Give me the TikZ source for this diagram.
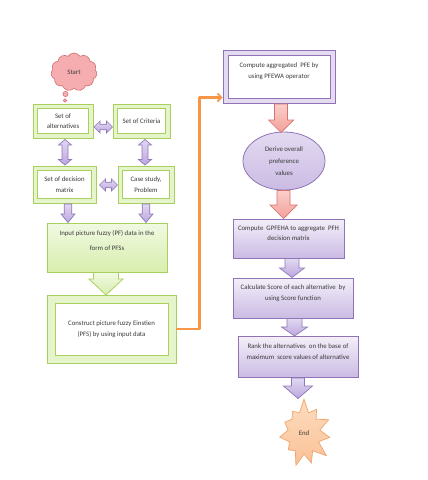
\documentclass[tikz,border=0pt]{standalone}
\usepackage{fontspec}
\setmainfont{Carlito}
\usetikzlibrary{shapes.geometric,shapes.symbols,arrows.meta,calc}
\definecolor{gB}{HTML}{A9CF5F}
\definecolor{gF}{HTML}{E6F4CB}
\definecolor{gT}{HTML}{F1F9E2}
\definecolor{gD}{HTML}{D8EEAE}
\definecolor{pB}{HTML}{8E74B6}
\definecolor{pT}{HTML}{F3EFF9}
\definecolor{pD}{HTML}{CBBBE4}
\definecolor{pF}{HTML}{E4DBF1}
\definecolor{paT}{HTML}{E2D8F2}
\definecolor{paD}{HTML}{BBA7DE}
\definecolor{paB}{HTML}{8F78B8}
\definecolor{rkT}{HTML}{FBCFCB}
\definecolor{rkD}{HTML}{F3A09B}
\definecolor{rkB}{HTML}{D6726D}
\definecolor{orC}{HTML}{F79646}
\definecolor{enT}{HTML}{FDDCBF}
\definecolor{enD}{HTML}{FAC196}
\definecolor{enB}{HTML}{F0A46C}
\definecolor{stF}{HTML}{F6ADB0}
\definecolor{stB}{HTML}{D06B70}
\definecolor{txt}{HTML}{3A3A3A}
\newcommand\blockdown[7]{\draw[#1] ({#2-#6},#3) -- ({#2+#6},#3) -- ({#2+#6},#4) -- ({#2+#7},#4) -- (#2,#5) -- ({#2-#7},#4) -- ({#2-#6},#4) -- cycle;}
\newcommand\blockvdouble[7]{\draw[#1] (#2,#3) -- ({#2+#6},{#3+#7}) -- ({#2+#5},{#3+#7}) -- ({#2+#5},{#4-#7}) -- ({#2+#6},{#4-#7}) -- (#2,#4) -- ({#2-#6},{#4-#7}) -- ({#2-#5},{#4-#7}) -- ({#2-#5},{#3+#7}) -- ({#2-#6},{#3+#7}) -- cycle;}
\newcommand\blockhdouble[7]{\draw[#1] (#3,#2) -- ({#3+#7},{#2+#6}) -- ({#3+#7},{#2+#5}) -- ({#4-#7},{#2+#5}) -- ({#4-#7},{#2+#6}) -- (#4,#2) -- ({#4-#7},{#2-#6}) -- ({#4-#7},{#2-#5}) -- ({#3+#7},{#2-#5}) -- ({#3+#7},{#2-#6}) -- cycle;}
\begin{document}
\begin{tikzpicture}[x=1pt,y=-1pt,
  font=\fontsize{6.8}{10.5}\selectfont,
  every node/.style={inner sep=0pt,align=center,text=txt},
  greenframe/.style={draw=gB,fill=gF,line width=0.9pt,
    path picture={\draw[gB,fill=white,line width=0.7pt]
      ([shift={(#1,-#1)}]path picture bounding box.north west) rectangle
      ([shift={(-#1,#1)}]path picture bounding box.south east);}},
  greenframe/.default=4.5pt,
  purpleframe/.style={draw=pB,fill=pF,line width=0.9pt,
    path picture={\draw[pB,fill=white,line width=0.7pt]
      ([shift={(#1,-#1)}]path picture bounding box.north west) rectangle
      ([shift={(-#1,#1)}]path picture bounding box.south east);}},
  purpleframe/.default=5pt,
  greenbox/.style={draw=gB,top color=gT,bottom color=gD,line width=0.9pt},
  purplebox/.style={draw=pB,top color=pT,bottom color=pD,line width=0.8pt},
  purplearrow/.style={draw=paB,top color=paT,bottom color=paD,line width=0.7pt},
  pinkarrow/.style={draw=rkB,top color=rkT,bottom color=rkD,line width=0.7pt},
  greenarrow/.style={draw=gB,top color=gT,bottom color=gD,line width=0.8pt},
  orangeconn/.style={draw=orC,line width=2.4pt,-{Straight Barb[length=4pt,width=8pt,line width=1.6pt]}}
]
\useasboundingbox (0,0) rectangle (428,480);
% left column
\node[cloud,cloud puffs=11,cloud puff arc=115,aspect=1.2,draw=stB,fill=stF,line width=0.6pt,minimum width=46pt,minimum height=38pt] (start) at (74,72) {Start};
\fill[stF,draw=stB,line width=0.5pt] (65.5,94) circle (2.6);
\fill[stF,draw=stB,line width=0.5pt] (65,100.5) circle (1.7);
\node[greenframe,minimum width=60pt,minimum height=34pt] (alt) at (63,121) {Set of\\alternatives};
\node[greenframe,minimum width=57pt,minimum height=34pt] (crit) at (141.5,121) {Set of Criteria};
\node[greenframe,minimum width=63pt,minimum height=37pt] (dec) at (64.5,184.5) {Set of decision\\matrix};
\node[greenframe,minimum width=56pt,minimum height=37pt] (case) at (146,184.5) {Case study,\\Problem};
\node[greenbox,minimum width=120pt,minimum height=49pt] (input) at (107,247.5) {Input picture fuzzy (PF) data in the\\[4pt]form of PFSs\\[3pt]\mbox{}};
\node[greenframe=8pt,minimum width=129pt,minimum height=68pt] (construct) at (111.5,329) {Construct picture fuzzy Einstien\\(PFS) by using input data};
% connectors left
\blockhdouble{purplearrow}{127}{94}{112.5}{2.8}{6}{6}
\blockhdouble{purplearrow}{185}{99.5}{117.5}{2.8}{6}{6}
\blockvdouble{purplearrow}{65}{139.5}{165}{3}{6.5}{5.5}
\blockvdouble{purplearrow}{145}{139.5}{165}{3}{6.5}{5.5}
\blockdown{purplearrow}{68}{204}{214}{222.5}{3.8}{7}
\blockdown{purplearrow}{146}{204}{214}{222.5}{3.8}{7}
\blockdown{greenarrow}{106}{272.5}{279}{295}{12.5}{17}
% right column
\node[purpleframe,minimum width=112pt,minimum height=53pt] (compute) at (279,76.5) {Compute aggregated\ \ PFE by\\using PFEWA operator\\[1pt]\mbox{}};
\node[ellipse,draw=pB,top color=pT!60!pD,bottom color=pD,line width=0.8pt,minimum width=82pt,minimum height=58pt] (derive) at (284,161) {Derive overall\\[1.5pt]preference\\[1.5pt]values};
\node[purplebox,minimum width=111pt,minimum height=39pt] (gpf) at (288.5,238.5) {Compute\ \ GPFEHA to aggregate\ \ PFH\\decision matrix\\[0pt]\mbox{}};
\node[purplebox,minimum width=120pt,minimum height=40pt] (calc) at (293,298) {Calculate\ Score of each alternative\ \ by\\using Score function\\[0pt]\mbox{}};
\node[purplebox,minimum width=120pt,minimum height=41pt] (rank) at (298,357) {Rank the alternatives\ \ on the base of\\maximum\ \ score values of alternative\\[0pt]\mbox{}};
\node[starburst,starburst points=11,starburst point height=14pt,random starburst=7,draw=enB,top color=enT,bottom color=enD,line width=0.7pt,minimum width=60pt,minimum height=70pt] (end) at (304,433) {End};
\blockdown{pinkarrow}{281}{104}{120}{132.5}{6.5}{12.5}
\blockdown{pinkarrow}{283.5}{190.5}{205}{218.5}{6.5}{13.5}
\blockdown{purplearrow}{292}{258.5}{268}{277.5}{7}{12.5}
\blockdown{purplearrow}{294.5}{318.5}{327}{336}{7.5}{13}
\blockdown{purplearrow}{298}{378}{386}{398.5}{6.5}{14.5}
% orange connector
\coordinate (cin) at ($(compute.south west)+(0,-6)$);
\draw[orangeconn,line join=round] (construct.east) -- ++(23,0) |- (cin);
\end{tikzpicture}
\end{document}
